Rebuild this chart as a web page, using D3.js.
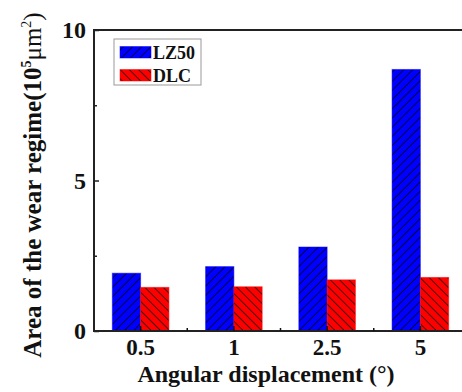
<!DOCTYPE html>
<html>
<head>
<meta charset="utf-8">
<script src="https://cdn.jsdelivr.net/npm/d3@7"></script>
<style>
  html, body { margin: 0; padding: 0; background: #fff; }
  svg { display: block; }
</style>
</head>
<body>
<svg id="chart" width="462" height="392"></svg>
<script>
// Wear regime area per angular displacement, two coatings
const categories = ["0.5", "1", "2.5", "5"];
const seriesNames = ["LZ50", "DLC"];
const lz50 = [1.92, 2.14, 2.79, 8.69];
const dlc = [1.45, 1.47, 1.70, 1.78];
const yTicksMajor = [0, 5, 10];
const yTicksMinor = [2.5, 7.5];
const colors = ["#0000ff", "#ff0000"];
const FONT = "Liberation Serif";

const svg = d3.select("#chart")
  .attr("font-family", FONT).attr("font-weight", "bold");
const margin = { left: 94, top: 30, right: -5, bottom: 61 };
const W = 462, H = 392;
const x0 = margin.left, x1 = W - margin.right;
const yTop = margin.top, yBot = H - margin.bottom;

const x = d3.scaleBand().domain(categories).range([x0, x1])
  .paddingInner(0.393).paddingOuter(0.393 / 2);
const xs = d3.scaleBand().domain(seriesNames).range([0, x.bandwidth()]);
const y = d3.scaleLinear().domain([0, 10]).range([yBot, yTop]);

// hatch patterns
const defs = svg.append("defs");
function hatch(id, color, dir, ink) {
  const p = defs.append("pattern").attr("id", id)
    .attr("patternUnits", "userSpaceOnUse").attr("width", 6.5).attr("height", 6.5)
    .attr("patternTransform", `rotate(${dir > 0 ? 45 : -45})`);
  p.append("rect").attr("width", 6.5).attr("height", 6.5).attr("fill", color);
  p.append("line").attr("x1", 3.25).attr("y1", -1).attr("x2", 3.25).attr("y2", 8)
    .attr("stroke", ink).attr("stroke-width", 1);
}
hatch("hatchBlue", colors[0], 1, "#000040");
hatch("hatchRed", colors[1], -1, "#401010");
const fills = ["url(#hatchBlue)", "url(#hatchRed)"];

const rows = categories.map((c, i) => ({ cat: c, vals: [lz50[i], dlc[i]] }));

// bars
const g = svg.append("g");
rows.forEach(r => {
  r.vals.forEach((v, k) => {
    g.append("rect")
      .attr("x", x(r.cat) + xs(seriesNames[k]))
      .attr("y", y(v))
      .attr("width", xs.bandwidth())
      .attr("height", y(0) - y(v))
      .attr("fill", fills[k])
      .attr("stroke", colors[k]).attr("stroke-opacity", 0.5).attr("stroke-width", 1);
  });
});

// frame
svg.append("line").attr("x1", x0).attr("x2", W).attr("y1", yTop).attr("y2", yTop)
  .attr("stroke", "#222").attr("stroke-width", 2);
svg.append("line").attr("x1", x0).attr("x2", x0).attr("y1", yTop - 1).attr("y2", yBot + 1)
  .attr("stroke", "#222").attr("stroke-width", 2);
svg.append("line").attr("x1", x0 - 1).attr("x2", W).attr("y1", yBot).attr("y2", yBot)
  .attr("stroke", "#222").attr("stroke-width", 2);

// y axis ticks (inward)
const yAxis = d3.axisRight(y).tickValues(yTicksMajor).tickSize(5).tickFormat("");
svg.append("g").attr("transform", `translate(${x0},0)`).call(yAxis)
  .call(a => a.select(".domain").remove())
  .selectAll("line").attr("stroke", "#222").attr("stroke-width", 1.5);
const yAxisMinor = d3.axisRight(y).tickValues(yTicksMinor).tickSize(3).tickFormat("");
svg.append("g").attr("transform", `translate(${x0},0)`).call(yAxisMinor)
  .call(a => a.select(".domain").remove())
  .selectAll("line").attr("stroke", "#222").attr("stroke-width", 1.5);

// y tick labels
svg.append("g").selectAll("text").data(yTicksMajor).join("text")
  .attr("x", x0 - 8).attr("y", d => y(d) + 8)
  .attr("text-anchor", "end").attr("font-size", 24).attr("fill", "#111").text(d => d);

// x axis ticks (inward): major at centers, minor between groups
const centers = categories.map(c => x(c) + x.bandwidth() / 2);
svg.append("g").selectAll("line").data(centers).join("line")
  .attr("x1", d => d).attr("x2", d => d).attr("y1", yBot).attr("y2", yBot - 5)
  .attr("stroke", "#111").attr("stroke-width", 1.5);
svg.append("g").selectAll("line").data(centers.slice(0, -1)).join("line")
  .attr("x1", (d, i) => (d + centers[i + 1]) / 2).attr("x2", (d, i) => (d + centers[i + 1]) / 2)
  .attr("y1", yBot).attr("y2", yBot - 3)
  .attr("stroke", "#111").attr("stroke-width", 1.5);

// x tick labels
svg.append("g").selectAll("text").data(categories).join("text")
  .attr("x", d => x(d) + x.bandwidth() / 2).attr("y", 355)
  .attr("text-anchor", "middle").attr("font-size", 23).attr("fill", "#111").text(d => d);

// axis titles
svg.append("text").attr("x", 266).attr("y", 381.5).attr("text-anchor", "middle")
  .attr("font-size", 24).attr("fill", "#111").text("Angular displacement (°)");

const yt = svg.append("text").attr("transform", "translate(41,185) rotate(-90)")
  .attr("text-anchor", "middle").attr("font-size", 25).attr("fill", "#111");
yt.append("tspan").text("Area of the wear regime(10");
yt.append("tspan").attr("font-size", 14).attr("dy", -10).text("5");
yt.append("tspan").attr("font-weight", "normal").attr("dy", 10).text("μm");
yt.append("tspan").attr("font-size", 14).attr("font-weight", "normal").attr("dy", -10).text("2");
yt.append("tspan").attr("font-weight", "normal").attr("dy", 10).text(")");

// legend
const lg = svg.append("g");
lg.append("rect").attr("x", 114).attr("y", 39).attr("width", 87).attr("height", 46)
  .attr("fill", "#fff").attr("stroke", "#999").attr("stroke-width", 1);
seriesNames.forEach((n, k) => {
  const yy = 46.5 + k * 23;
  lg.append("rect").attr("x", 120).attr("y", yy).attr("width", 31).attr("height", 11.5)
    .attr("fill", fills[k]).attr("stroke", colors[k]).attr("stroke-opacity", 0.5);
  lg.append("text").attr("x", 153).attr("y", yy + 12).attr("font-size", 18)
    .attr("fill", "#111").text(n);
});
</script>
</body>
</html>
